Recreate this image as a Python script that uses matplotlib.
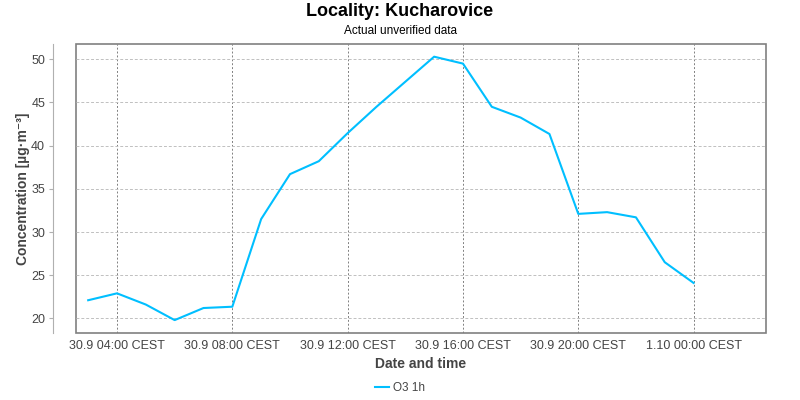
import matplotlib
matplotlib.use("Agg")
import matplotlib.pyplot as plt
import matplotlib.dates as mdates
import pandas as pd
from matplotlib.patches import Rectangle

plt.rcParams['font.family'] = ['Liberation Sans', 'DejaVu Sans']

# hourly O3 values, 30.9 03:00 -> 1.10 00:00
times = pd.date_range('2024-09-30 03:00', periods=22, freq='h')
o3 = [22.1, 22.9, 21.6, 19.8, 21.2, 21.35, 31.5, 36.7, 38.2, 41.45,
      44.5, 47.4, 50.3, 49.5, 44.5, 43.25, 41.35, 32.1, 32.3, 31.7,
      26.5, 24.1]
series_name = 'O3 1h'
yticks = [20, 25, 30, 35, 40, 45, 50]

fig = plt.figure(figsize=(8, 4), dpi=100)
ax = fig.add_axes([0.0946, 0.168, 0.8625, 0.722])

ax.plot(times, o3, color='#00bfff', lw=1.5, label=series_name)

ax.set_xlim(pd.Timestamp('2024-09-30 02:34'), pd.Timestamp('2024-10-01 02:30'))
ax.set_ylim(18.33, 51.77)
ax.set_yticks(yticks)

ax.xaxis.set_major_locator(mdates.HourLocator(byhour=[0, 4, 8, 12, 16, 20]))
ax.xaxis.set_major_formatter(
    plt.FuncFormatter(lambda v, p: mdates.num2date(v).strftime('%-d.%-m %H:%M CEST')))

ax.grid(axis='x', color='#808080', ls=(0, (2, 2)), lw=0.7)
ax.grid(axis='y', color='#c0c0c0', ls=(0, (3, 2)), lw=0.7)

for s in ['top', 'right', 'bottom']:
    ax.spines[s].set_visible(False)
ax.spines['left'].set_position(('outward', 16))
ax.spines['left'].set_color('#b0b0b0')
ax.add_patch(Rectangle((0, 0), 1, 1, transform=ax.transAxes, fill=False,
                       ec='#808080', lw=1.2, clip_on=False))

ax.tick_params(axis='y', length=3, color='#b0b0b0', labelsize=9, labelcolor='#444444', pad=3)
ax.tick_params(axis='x', length=0, labelsize=9, labelcolor='#444444', pad=5)

ax.set_xlabel('Date and time', fontsize=10, fontweight='bold', color='#444444', labelpad=4)
ax.set_ylabel('Concentration [µg·m⁻³]', fontsize=10, fontweight='bold', color='#444444')
ax.yaxis.set_label_coords(-0.066, 0.5)

fig.text(0.5, 0.97, 'Locality: Kucharovice', ha='center', va='center',
         fontsize=13, fontweight='bold')
fig.text(0.5, 0.922, 'Actual unverified data', ha='center', va='center', fontsize=8.5)

fig.legend(loc='center', bbox_to_anchor=(0.5, 0.03), frameon=False, fontsize=8.5,
           handlelength=1.2, handletextpad=0.4, labelcolor='#444444')

fig.savefig('out.png', dpi=100)
